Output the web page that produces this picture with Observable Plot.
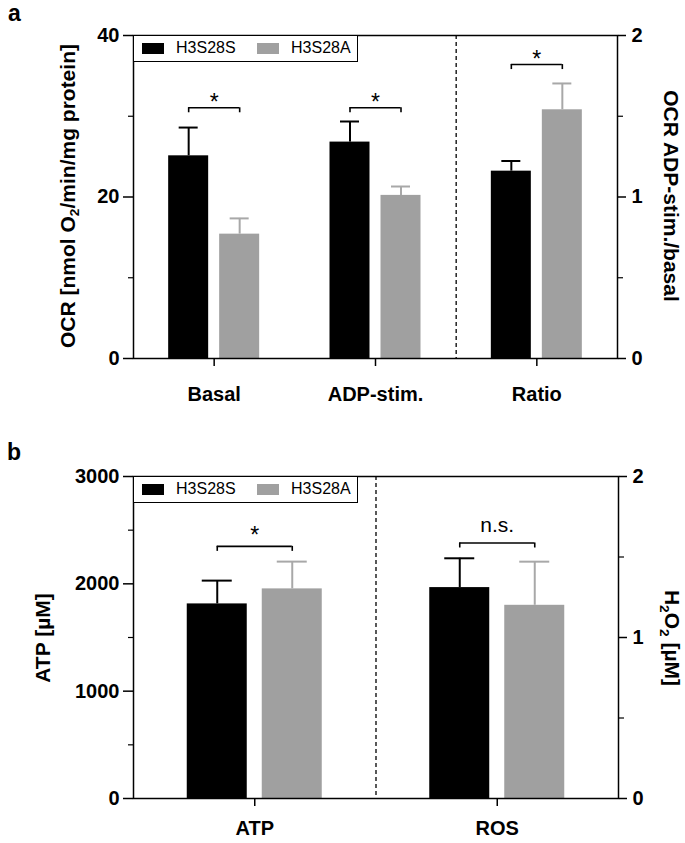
<!DOCTYPE html>
<html><head><meta charset="utf-8">
<script src="https://cdn.jsdelivr.net/npm/d3@7"></script>
<script src="https://cdn.jsdelivr.net/npm/@observablehq/plot@0.6"></script>
<style>
body{margin:0;background:#fff;}
#root{position:relative;width:685px;height:843px;font-family:"Liberation Sans",Arial,sans-serif;overflow:hidden;background:#fff;color:#000}
.panel{position:absolute;left:0}
.letter{position:absolute;font-weight:bold;font-size:23px;line-height:1}
.ytitle{position:absolute;font-weight:bold;font-size:21px;white-space:nowrap;line-height:1}
.ytitle sub{font-size:0.65em;vertical-align:-0.3em;line-height:0}
.legend{position:absolute;box-sizing:border-box;border:1.5px solid #000;background:#fff;width:225px;height:27px}
.legend .sw{position:absolute;top:7px;height:11px;width:22px}
.legend .lt{position:absolute;top:4px;font-size:16px;line-height:1}
</style>
</head><body>
<div id="root"></div>
<script>
// ---------- Panel a data ----------
const catsA = ["Basal", "ADP-stim.", "Ratio"];
const meanA_S = [25.1, 26.8, 1.16];    // H3S28S
const semA_S  = [3.5, 2.55, 0.063];
const meanA_A = [15.4, 20.2, 1.54];    // H3S28A
const semA_A  = [1.95, 1.1, 0.163];
const sigA     = ["*", "*", "*"];
const bracketA = [31.05, 31.05, 1.82];
const rightCatsA = ["Ratio"];          // read on right axis (0-2)
const ticksA = [0, 20, 40], minorA = [10, 30];
const rTicksA = [0, 1, 2], rMinorA = [0.5, 1.5];

// ---------- Panel b data ----------
const catsB = ["ATP", "ROS"];
const meanB_S = [1813, 1.31];
const semB_S  = [217, 0.182];
const meanB_A = [1953, 1.20];
const semB_A  = [254, 0.271];
const sigB     = ["*", "n.s."];
const bracketB = [2349, 1.587];
const rightCatsB = ["ROS"];            // read on right axis (0-2)
const ticksB = [0, 1000, 2000, 3000], minorB = [500, 1500, 2500];
const rTicksB = [0, 1, 2], rMinorB = [0.5, 1.5];

const series = ["H3S28S", "H3S28A"];
const colors = {S: "#000000", A: "#a0a0a0", Aerr: "#a8a8a8"};
const FONT = '"Liberation Sans", Arial, sans-serif';

function makePanel(c) {
  const W = 685;
  const factor = c.ticks[c.ticks.length - 1] / c.rTicks[c.rTicks.length - 1];
  const yMax = c.ticks[c.ticks.length - 1];
  const rows = c.cats.map((cat, i) => {
    const f = c.rightCats.includes(cat) ? factor : 1;
    return {cat, s: c.meanS[i] * f, sTop: (c.meanS[i] + c.semS[i]) * f,
            a: c.meanA[i] * f, aTop: (c.meanA[i] + c.semA[i]) * f,
            br: c.bracket[i] * f, sig: c.sig[i]};
  });
  const bw = (W - c.mL - c.mR) / c.cats.length;
  const plotH = c.height - c.mT - c.mB;
  const endLen = 5 * yMax / plotH;
  const o = c.off, hb = c.barW / 2, hc = c.capW / 2;
  const sIn = {insetLeft: bw/2 - o - hb, insetRight: bw/2 + o - hb};
  const aIn = {insetLeft: bw/2 + o - hb, insetRight: bw/2 - o - hb};
  const capIn = {insetLeft: bw/2 - hc, insetRight: bw/2 - hc};
  const brIn = {insetLeft: bw/2 - o, insetRight: bw/2 - o};
  const axisText = {fontSize: 20, fontWeight: "bold", fontFamily: FONT};
  return Plot.plot({
    width: W, height: c.height,
    marginTop: c.mT, marginBottom: c.mB, marginLeft: c.mL, marginRight: c.mR,
    style: {fontFamily: FONT, color: "#000", background: "#fff", overflow: "visible"},
    x: {type: "band", domain: c.cats, padding: 0, round: false},
    y: {domain: [0, yMax]},
    marks: [
      // dashed separator before the right-axis group
      Plot.ruleX(c.rightCats.slice(0, 1), {x: d => d, dx: -bw / 2, stroke: "#000", strokeWidth: 1.3, strokeDasharray: "4,3"}),
      // bars
      Plot.barY(rows, {x: "cat", y: "s", fill: colors.S, ...sIn}),
      Plot.barY(rows, {x: "cat", y: "a", fill: colors.A, ...aIn}),
      // error bars
      Plot.ruleX(rows, {x: "cat", y1: "s", y2: "sTop", dx: -o, stroke: colors.S, strokeWidth: 2}),
      Plot.tickY(rows, {x: "cat", y: "sTop", dx: -o, stroke: colors.S, strokeWidth: 2, ...capIn}),
      Plot.ruleX(rows, {x: "cat", y1: "a", y2: "aTop", dx: o, stroke: colors.Aerr, strokeWidth: 2}),
      Plot.tickY(rows, {x: "cat", y: "aTop", dx: o, stroke: colors.Aerr, strokeWidth: 2, ...capIn}),
      // significance brackets
      Plot.tickY(rows, {x: "cat", y: "br", stroke: "#000", strokeWidth: 1.6, ...brIn}),
      Plot.ruleX(rows, {x: "cat", y1: "br", y2: d => d.br - endLen, dx: -o, stroke: "#000", strokeWidth: 1.6}),
      Plot.ruleX(rows, {x: "cat", y1: "br", y2: d => d.br - endLen, dx: o, stroke: "#000", strokeWidth: 1.6}),
      Plot.text(rows.filter(d => d.sig === "*"), {x: "cat", y: "br", text: "sig", dy: c.starDy, fontSize: 23, fontFamily: FONT}),
      Plot.text(rows.filter(d => d.sig !== "*"), {x: "cat", y: "br", text: "sig", dy: -18, fontSize: 21, fontFamily: FONT}),
      // frame
      Plot.frame({stroke: "#000", strokeWidth: 1.5}),
      // left axis
      Plot.axisY({ticks: c.ticks, tickFormat: d => String(d), tickSize: 10, tickPadding: 4, strokeWidth: 1.5, label: null, ...axisText}),
      Plot.axisY({ticks: c.minor, tickSize: 5, strokeWidth: 1.2, tickFormat: () => "", label: null}),
      // right axis
      Plot.axisY({anchor: "right", ticks: c.rTicks.map(t => t * factor), tickFormat: d => String(d / factor),
                  tickSize: 8, tickPadding: 6, strokeWidth: 1.5, label: null, ...axisText}),
      Plot.axisY({anchor: "right", ticks: c.rMinor.map(t => t * factor), tickSize: 5, strokeWidth: 1.2,
                  tickFormat: () => "", label: null}),
      // category axis
      Plot.axisX({tickSize: 8, tickPadding: c.xPad, strokeWidth: 1.5, label: null, ...axisText})
    ]
  });
}

const root = document.getElementById("root");
function place(el, top) { el.classList.add("panel"); el.style.top = top + "px"; root.appendChild(el); }

place(makePanel({cats: catsA, meanS: meanA_S, semS: semA_S, meanA: meanA_A, semA: semA_A,
  sig: sigA, bracket: bracketA, rightCats: rightCatsA, ticks: ticksA, minor: minorA,
  rTicks: rTicksA, rMinor: rMinorA, height: 420, mT: 35, mB: 62, mL: 133, mR: 68,
  off: 25.5, barW: 40, capW: 19, starDy: -5, xPad: 20}), 0);

place(makePanel({cats: catsB, meanS: meanB_S, semS: semB_S, meanA: meanB_A, semA: semB_A,
  sig: sigB, bracket: bracketB, rightCats: rightCatsB, ticks: ticksB, minor: minorB,
  rTicks: rTicksB, rMinor: rMinorB, height: 403, mT: 36, mB: 45, mL: 133, mR: 67,
  off: 37.5, barW: 60, capW: 30, starDy: -11, xPad: 14}), 440);

function addHTML(html) { const d = document.createElement("div"); d.innerHTML = html; root.appendChild(d.firstElementChild); }
addHTML('<div class="letter" style="left:8px;top:2px">a</div>');
addHTML('<div class="letter" style="left:7px;top:441px">b</div>');

function title(html, cx, cy, rot) {
  const d = document.createElement("div");
  d.className = "ytitle"; d.innerHTML = html;
  d.style.left = cx + "px"; d.style.top = cy + "px";
  d.style.transform = `translate(-50%,-50%) rotate(${rot}deg)`;
  root.appendChild(d);
}
title('OCR [nmol O<sub>2</sub>/min/mg protein]', 67, 196, -90);
title('OCR ADP-stim./basal', 671, 196, 90);
title('ATP [µM]', 42, 638, -90);
title('H<sub>2</sub>O<sub>2</sub> [µM]', 672, 638, 90);

function legend(top) {
  const d = document.createElement("div");
  d.className = "legend"; d.style.left = "133px"; d.style.top = top + "px";
  d.innerHTML = `<div class="sw" style="left:8px;background:${colors.S}"></div><div class="lt" style="left:42px">${series[0]}</div>` +
                `<div class="sw" style="left:123px;background:${colors.A}"></div><div class="lt" style="left:157px">${series[1]}</div>`;
  root.appendChild(d);
}
legend(35);
legend(476);
</script>
</body></html>
